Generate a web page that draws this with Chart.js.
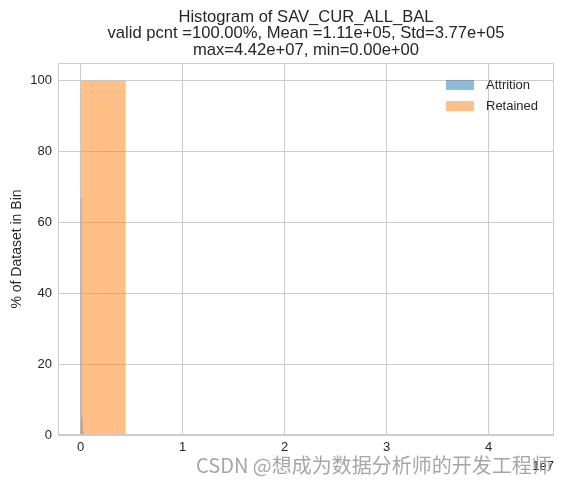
<!DOCTYPE html>
<html>
<head>
<meta charset="utf-8">
<script src="https://cdn.jsdelivr.net/npm/chart.js@4.4.0/dist/chart.umd.min.js"></script>
<style>
  body { margin: 0; background: #fff; }
  canvas { display: block; }
</style>
</head>
<body>
<canvas id="hist" width="563" height="482"></canvas>
<script>
// title text
const titleLines = [
  'Histogram of SAV_CUR_ALL_BAL',
  'valid pcnt =100.00%, Mean =1.11e+05, Std=3.77e+05',
  'max=4.42e+07, min=0.00e+00'
];

// bin edges (raw balance) and % of dataset in each bin
const attritionEdges = [0, 1e5, 2e5, 3e5, 4e5, 5e5, 6e5, 7e5, 8e5, 9e5, 1e6];
const attritionPct = [66.8, 4.7, 0.8, 0.3, 0.1, 0.1, 0, 0, 0, 0.1];

const retainedEdges = [0, 4.42e6, 8.84e6, 1.326e7, 1.768e7, 2.21e7, 2.652e7, 3.094e7, 3.536e7, 3.978e7, 4.42e7];
const retainedPct = [100, 0, 0, 0, 0, 0, 0, 0, 0, 0];

const xTicks = [0, 1e7, 2e7, 3e7, 4e7];
const yTicks = [0, 20, 40, 60, 80, 100];

const seriesNames = ['Attrition', 'Retained'];
const colors = ['rgba(31,119,180,0.5)', 'rgba(255,127,14,0.5)'];

// stepped line points: each value held from its left edge to the next edge
function steps(edges, vals) {
  const pts = vals.map((v, i) => ({x: edges[i], y: v}));
  pts.push({x: edges[edges.length - 1], y: 0});
  return pts;
}

const font = '"Liberation Sans", Arial, sans-serif';
const dark = '#262626';

const extras = {
  id: 'extras',
  afterDraw(chart) {
    const ctx = chart.ctx;
    const a = chart.chartArea;
    ctx.save();
    // frame
    ctx.strokeStyle = '#cccccc';
    ctx.lineWidth = 1;
    ctx.strokeRect(Math.round(a.left) + 0.5, Math.round(a.top) + 0.5,
                   Math.round(a.right - a.left) - 1, Math.round(a.bottom - a.top) - 1);

    // title
    const cx = (a.left + a.right) / 2;
    ctx.fillStyle = dark;
    ctx.font = '16.6px ' + font;
    ctx.textAlign = 'center';
    ctx.textBaseline = 'alphabetic';
    titleLines.forEach((t, i) => ctx.fillText(t, cx, 21.7 + i * 16.7));

    // y label
    ctx.save();
    ctx.translate(21, (a.top + a.bottom) / 2);
    ctx.rotate(-Math.PI / 2);
    ctx.font = '14px ' + font;
    ctx.textBaseline = 'alphabetic';
    ctx.fillText('% of Dataset in Bin', 0, 0);
    ctx.restore();

    // legend
    ctx.textAlign = 'left';
    ctx.textBaseline = 'middle';
    ctx.font = '13px ' + font;
    seriesNames.forEach((name, i) => {
      const y = 80 + i * 21;
      ctx.fillStyle = colors[i];
      ctx.fillRect(446, y, 28, 10);
      ctx.fillStyle = dark;
      ctx.fillText(name, 486, y + 5);
    });

    // offset text
    ctx.textAlign = 'right';
    ctx.textBaseline = 'alphabetic';
    ctx.fillText('1e7', a.right, 470);

    // watermark
    ctx.textAlign = 'left';
    ctx.font = '20px "Noto Sans CJK SC", sans-serif';
    ctx.fillStyle = 'rgba(150,150,150,0.85)';
    ctx.fillText('CSDN @想成为数据分析师的开发工程师', 196, 473);
    ctx.restore();
  }
};

const config = {
  type: 'line',
  data: {
    datasets: [
      {
        label: seriesNames[0],
        data: steps(attritionEdges, attritionPct),
        backgroundColor: colors[0],
        borderWidth: 0,
        pointRadius: 0,
        stepped: 'before',
        fill: 'origin',
        order: 2
      },
      {
        label: seriesNames[1],
        data: steps(retainedEdges, retainedPct),
        backgroundColor: colors[1],
        borderWidth: 0,
        pointRadius: 0,
        stepped: 'before',
        fill: 'origin',
        order: 1
      }
    ]
  },
  options: {
    responsive: false,
    animation: false,
    parsing: false,
    layout: { padding: { left: 0, right: 9, top: 63, bottom: 0 } },
    plugins: {
      legend: { display: false },
      tooltip: { enabled: false }
    },
    scales: {
      x: {
        type: 'linear',
        min: -0.221e7,
        max: 4.641e7,
        afterBuildTicks: s => { s.ticks = xTicks.map(v => ({value: v})); },
        afterFit: s => { s.height = 47; },
        grid: { color: '#cccccc', drawTicks: false },
        border: { display: false },
        ticks: {
          padding: 5,
          color: dark,
          font: { family: font, size: 13 },
          callback: v => String(v / 1e7)
        }
      },
      y: {
        type: 'linear',
        min: 0,
        max: 105,
        afterBuildTicks: s => { s.ticks = yTicks.map(v => ({value: v})); },
        afterFit: s => { s.width = 58; },
        grid: { color: '#cccccc', drawTicks: false },
        border: { display: false },
        ticks: {
          padding: 6,
          color: dark,
          font: { family: font, size: 13 }
        }
      }
    }
  },
  plugins: [extras]
};

const myChart = new Chart(document.getElementById('hist'), config);
</script>
</body>
</html>
